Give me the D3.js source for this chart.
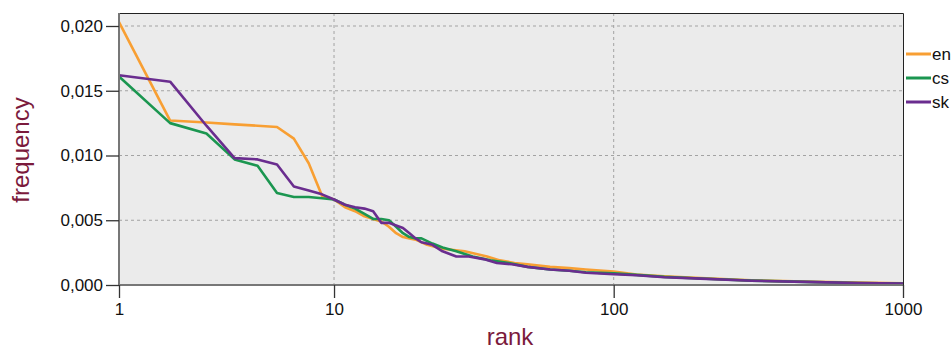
<!DOCTYPE html>
<html><head><meta charset="utf-8">
<script src="https://cdn.jsdelivr.net/npm/d3@7"></script>
<style>body{margin:0;background:#fff}svg{display:block;font-family:"Liberation Sans",Arial,sans-serif}</style>
</head><body><svg id="c" width="952" height="350"></svg>
<script>
const seriesNames = ["en", "cs", "sk"];
const seriesColors = ["#f89f33", "#1b9650", "#6a2d8f"];
const enRanks = [1,2,3,4,5,6,7,8,9,10,11,12,13,14,15,16,17,18,19,20,22,25,30,33,36,40,45,50,60,70,80,100,120,150,200,300,500,700,1000];
const enFreq = [0.0203,0.0127,0.01255,0.0124,0.0123,0.0122,0.0113,0.0094,0.0069,0.0066,0.0060,0.0057,0.0053,0.0051,0.0049,0.0045,0.0040,0.0037,0.0036,0.0035,0.0031,0.0028,0.0026,0.0024,0.0022,0.0019,0.0017,0.0016,0.0014,0.0013,0.0012,0.00103,0.0008,0.00068,0.00053,0.00036,0.00024,0.00018,0.00013];
const csRanks = [1,2,3,4,5,6,7,8,9,10,11,12,13,14,15,16,17,18,19,20,21,23,25,28,32,37,43,50,60,70,80,100,120,150,200,300,500,700,1000];
const csFreq = [0.0161,0.0125,0.0117,0.0097,0.0092,0.0071,0.0068,0.0068,0.0067,0.0066,0.0062,0.0059,0.0055,0.0051,0.0051,0.0050,0.0045,0.0040,0.0037,0.0036,0.0036,0.0032,0.0029,0.0026,0.0022,0.0019,0.0017,0.0014,0.0012,0.0011,0.00098,0.0009,0.00078,0.00063,0.0005,0.00034,0.00022,0.00016,0.00012];
const skRanks = [1,2,3,4,5,6,7,8,9,10,11,12,13,14,15,16,17,18,19,20,21,23,25,28,31,35,39,44,50,60,70,80,100,120,150,200,300,500,700,1000];
const skFreq = [0.0162,0.0157,0.0123,0.0098,0.0097,0.0093,0.0076,0.0073,0.0070,0.0066,0.0062,0.0060,0.0059,0.0057,0.0048,0.0048,0.0046,0.0044,0.0040,0.0036,0.0033,0.0031,0.0026,0.0022,0.0022,0.0020,0.0017,0.0016,0.0014,0.0012,0.0011,0.00095,0.00083,0.00075,0.0006,0.00049,0.00033,0.00022,0.00016,0.00012];
const xTicks = [1, 10, 100, 1000];
const yTicks = [0, 0.005, 0.010, 0.015, 0.020];

const svg = d3.select("#c");
const L = 119, R = 903, T = 13, B = 285;
const x = d3.scaleSymlog().constant(1).domain([1, 1000]).range([L, R]);
const y = d3.scaleLinear().domain([0, 0.02]).range([B, B - 0.02 * 12950]);

svg.append("rect").attr("x", L).attr("y", T).attr("width", R - L).attr("height", B - T).attr("fill", "#ebebeb");
// grid
svg.append("g").selectAll("line").data(yTicks.filter(d => d > 0)).join("line")
  .attr("x1", L).attr("x2", R).attr("y1", d => y(d)).attr("y2", d => y(d))
  .attr("stroke", "#a3a3a3").attr("stroke-dasharray", "3,3");
svg.append("g").selectAll("line").data(xTicks.filter(d => d > 1 && d < 1000)).join("line")
  .attr("y1", T).attr("y2", B).attr("x1", d => x(d)).attr("x2", d => x(d))
  .attr("stroke", "#a3a3a3").attr("stroke-dasharray", "3,3");
// border top/right
svg.append("path").attr("d", `M${L},${T+0.5}H${R+0.5}V${B}`).attr("fill", "none").attr("stroke", "#222").attr("stroke-width", 1);

const series = [[enRanks, enFreq], [csRanks, csFreq], [skRanks, skFreq]];
const line = d3.line().x(d => x(d[0])).y(d => y(d[1]));
series.forEach((s, i) => {
  const pts = s[0].map((r, j) => [r, s[1][j]]);
  svg.append("path").datum(pts).attr("d", line).attr("fill", "none")
    .attr("stroke", seriesColors[i]).attr("stroke-width", 2.6).attr("stroke-linejoin", "round");
});

// axes
const yAxis = svg.append("g").attr("transform", `translate(${L},0)`)
  .call(d3.axisLeft(y).tickValues(yTicks).tickSize(13).tickPadding(3).tickFormat(d => d3.format(".3f")(d).replace(".", ",")));
const xAxis = svg.append("g").attr("transform", `translate(0,${B})`)
  .call(d3.axisBottom(x).tickValues(xTicks).tickSize(13).tickPadding(5).tickFormat(d3.format("d")));
[yAxis, xAxis].forEach(g => {
  g.select(".domain").attr("stroke", "#777").attr("stroke-width", 2);
  g.selectAll(".tick line").attr("stroke", "#333").attr("stroke-width", 1.3);
  g.selectAll("text").attr("font-size", 17).attr("fill", "#111").attr("font-family", '"Liberation Sans",Arial,sans-serif');
});
xAxis.select(".domain").attr("d", `M${L},0H${R}`);
yAxis.select(".domain").attr("d", `M0,${B}V${T}`);

// axis titles
svg.append("text").attr("transform", `translate(29,150) rotate(-90)`).attr("text-anchor", "middle")
  .attr("font-size", 24).attr("fill", "#7b1a3c").text("frequency");
svg.append("text").attr("x", 510).attr("y", 345).attr("text-anchor", "middle")
  .attr("font-size", 24).attr("fill", "#7b1a3c").text("rank");

// legend
const lg = svg.append("g").selectAll("g").data(seriesNames).join("g")
  .attr("transform", (d, i) => `translate(906,${54 + i * 24})`);
lg.append("line").attr("x1", 0).attr("x2", 25).attr("stroke", (d, i) => seriesColors[i]).attr("stroke-width", 3);
lg.append("text").attr("x", 26).attr("dy", "0.35em").attr("font-size", 17).attr("fill", "#111").text(d => d);
</script></body></html>
